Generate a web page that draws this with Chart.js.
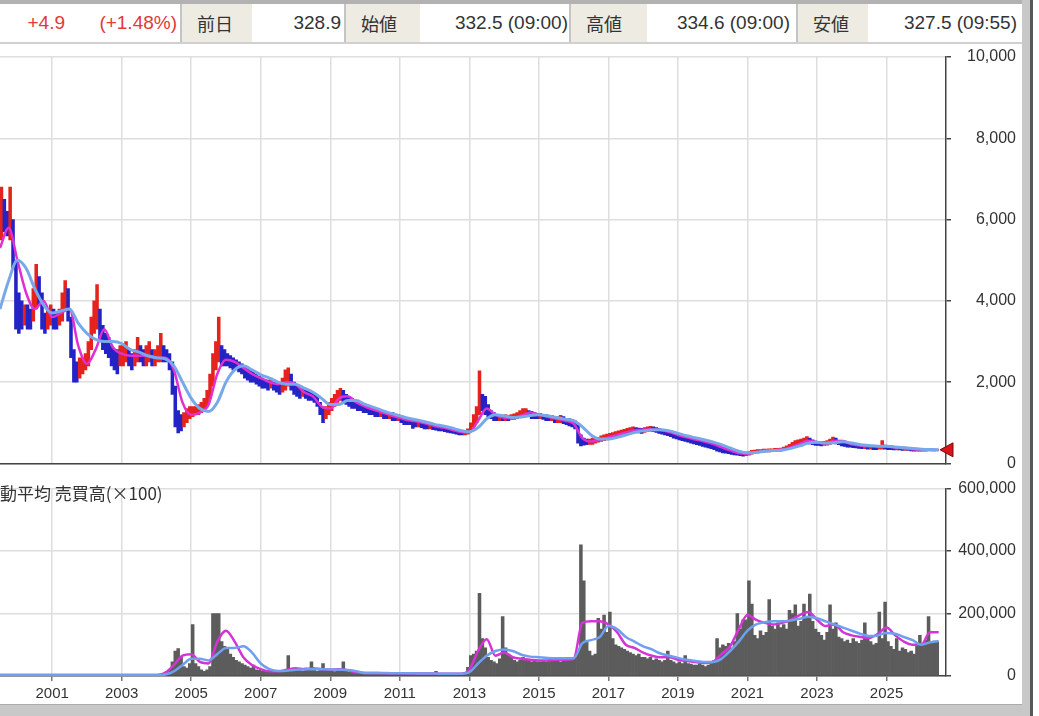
<!DOCTYPE html>
<html>
<head>
<meta charset="utf-8">
<script src="https://cdn.jsdelivr.net/npm/chart.js@4.4.1/dist/chart.umd.min.js"></script>
<style>
body { margin:0; width:1039px; height:716px; overflow:hidden; background:#fff; position:relative; font-family:'Liberation Sans', Arial, sans-serif; }
#hdr { position:absolute; left:0; top:0; width:1022px; height:44px; box-sizing:border-box; border-top:4px solid #b2b2b2; border-bottom:2px solid #d0d0d0; }
.cell { position:absolute; top:0; height:38px; line-height:38px; font-size:19px; color:#333; white-space:nowrap; text-align:right; }
.red { color:#e03a3a; }
.lbl { position:absolute; top:0; height:38px; line-height:38px; background:#eeebe3; font-family:'Noto Sans CJK JP', sans-serif; font-size:18px; color:#333; padding-left:15px; box-sizing:border-box; }
.sep { position:absolute; top:0; width:2px; height:38px; background:#c4c4c4; }
#pbox { position:absolute; left:0; top:44px; width:1024px; height:432px; }
#vbox { position:absolute; left:0; top:476px; width:1024px; height:240px; }
#vtitle { position:absolute; left:0; top:483px; font-family:'Noto Sans CJK JP', sans-serif; font-size:17px; line-height:20px; color:#333; }
.frame { position:absolute; }
</style>
</head>
<body>
<div id="hdr">
  <div class="cell red" style="left:0;width:65px">+4.9</div>
  <div class="cell red" style="left:70px;width:107px">(+1.48%)</div>
  <div class="sep" style="left:180px"></div>
  <div class="lbl" style="left:182px;width:70px">前日</div>
  <div class="cell" style="left:252px;width:89px">328.9</div>
  <div class="sep" style="left:344px"></div>
  <div class="lbl" style="left:346px;width:74px">始値</div>
  <div class="cell" style="left:420px;width:148px">332.5 (09:00)</div>
  <div class="sep" style="left:569px"></div>
  <div class="lbl" style="left:571px;width:76px">高値</div>
  <div class="cell" style="left:647px;width:143px">334.6 (09:00)</div>
  <div class="sep" style="left:796px"></div>
  <div class="lbl" style="left:798px;width:70px">安値</div>
  <div class="cell" style="left:868px;width:149px">327.5 (09:55)</div>
</div>
<div id="pbox"><canvas id="priceChart"></canvas></div>
<div id="vbox"><canvas id="volChart"></canvas></div>
<div id="vtitle">動平均 売買高(×100)</div>
<div class="frame" style="left:0;top:704px;width:1030px;height:12px;background:#c8c8c8;border-top:1px solid #aaa"></div>
<div class="frame" style="left:1022px;top:0;width:8px;height:716px;background:#c8c8c8"></div>
<div class="frame" style="left:1030px;top:0;width:3px;height:716px;background:#585858"></div>
<script>
// monthly data, Jul 1999 .. Jun 2026
const startYear = 1999.5;
const xMin = 1999.5, xMax = 2026.71;
const yearTicks = [2001,2003,2005,2007,2009,2011,2013,2015,2017,2019,2021,2023,2025];
const lastPrice = 333.8;

const priceLow = [
  5500,5700,5600,5500,4800,3300,
  3200,3300,3400,3300,3300,3500,3800,3900,3300,3200,3300,3400,
  3300,3300,3400,3500,3800,3500,2600,2000,2000,2100,2200,2300,
  2400,2800,3200,3300,3000,2800,2700,2600,2400,2300,2200,2400,
  2400,2500,2400,2300,2400,2500,2500,2400,2400,2500,2400,2400,
  2500,2500,2500,2500,2300,1700,900,750,800,900,1000,1100,
  1150,1200,1200,1250,1300,1400,1600,1900,2300,2500,2400,2400,
  2400,2350,2300,2300,2250,2200,2100,2050,2000,2000,1950,1900,
  1850,1850,1800,1850,1800,1750,1700,1750,1800,1900,1800,1700,
  1650,1600,1650,1600,1550,1550,1500,1400,1200,1000,1100,1200,
  1300,1400,1500,1550,1500,1450,1400,1350,1350,1300,1300,1250,
  1250,1200,1200,1150,1150,1150,1100,1100,1100,1050,1050,1050,
  1000,950,950,950,860,900,900,880,850,850,850,830,
  820,800,800,780,760,750,740,720,700,700,700,720,
  780,900,1000,1200,1300,1200,1150,1100,1050,1050,1050,1050,
  1050,1050,1080,1080,1100,1150,1180,1200,1150,1100,1100,1100,
  1100,1080,1050,1050,1050,1000,1000,1000,980,950,920,900,
  850,500,430,450,460,470,470,500,520,540,560,580,
  600,620,640,660,680,700,720,740,760,760,750,740,
  760,780,790,780,760,740,720,700,680,660,620,600,
  580,560,540,520,500,480,460,440,420,400,380,360,
  340,300,280,260,250,240,220,210,200,190,180,190,
  200,230,250,260,270,270,280,280,290,290,300,300,
  320,340,360,400,430,450,470,480,500,480,460,440,
  440,430,440,450,470,500,480,460,430,420,400,400,
  390,380,370,360,360,350,350,340,340,350,350,350,
  340,340,330,330,330,320,320,320,310,300,300,300,
  300,300,310,310,310,320
];
const priceHigh = [
  6800,6500,6200,6800,6000,5000,
  4200,4000,3900,3900,3800,4300,4900,4600,4200,3700,3800,3900,
  3800,3700,3800,4200,4500,4300,3600,2800,2500,2600,2600,2700,
  3000,3600,4000,4400,3800,3400,3200,3100,2900,2800,2800,2900,
  2900,3000,2800,2700,2800,3100,2900,2800,2900,3000,2800,2800,
  2900,3200,2900,2800,2700,2500,1900,1300,1200,1250,1350,1400,
  1400,1400,1450,1500,1600,1800,2200,2700,3000,3600,2900,2800,
  2700,2650,2600,2550,2500,2450,2400,2350,2300,2250,2200,2150,
  2100,2050,2050,2100,2000,2000,1950,2100,2300,2350,2200,2000,
  1900,1850,1850,1800,1800,1750,1700,1650,1500,1350,1400,1500,
  1600,1700,1800,1850,1800,1700,1650,1600,1550,1500,1450,1450,
  1400,1400,1350,1350,1300,1300,1300,1250,1250,1250,1200,1200,
  1180,1150,1120,1100,1100,1050,1050,1020,1000,980,980,960,
  950,940,920,900,880,860,850,830,820,800,800,850,
  1000,1200,1400,2280,1700,1650,1450,1300,1250,1200,1200,1180,
  1200,1180,1200,1220,1250,1300,1350,1350,1300,1280,1250,1230,
  1230,1200,1200,1180,1180,1150,1150,1180,1150,1100,1100,1080,
  1050,950,700,620,600,600,620,620,640,680,700,720,
  740,760,780,800,820,840,860,880,900,880,870,860,
  880,900,910,900,880,860,840,820,800,780,760,720,
  700,680,660,640,620,600,580,560,540,520,500,480,
  460,430,400,380,360,340,320,300,290,280,270,270,
  290,320,330,340,340,350,350,360,360,370,370,380,
  400,430,470,520,560,580,600,620,660,620,580,550,
  540,530,540,560,600,650,620,560,520,500,490,480,
  480,470,460,450,450,440,440,430,420,430,560,450,
  440,430,420,420,410,400,400,390,380,370,370,360,
  360,360,360,350,350,340
];
const volume = [
  3000,3000,4000,3000,3000,4000,
  4000,3000,3000,3000,3000,3000,4000,3000,3000,3000,3000,3000,
  3000,3000,3000,3000,3000,3000,4000,3000,3000,3000,3000,3000,
  3000,3000,4000,4000,3000,3000,3000,3000,3000,3000,3000,3000,
  3000,3000,3000,3000,3000,3000,3000,3000,3000,3000,3000,3000,
  4000,5000,8000,15000,20000,45000,80000,88000,60000,30000,25000,40000,
  165000,40000,30000,20000,15000,20000,30000,200000,200000,200000,110000,95000,
  85000,70000,60000,50000,45000,40000,35000,30000,25000,35000,20000,18000,
  15000,15000,14000,13000,15000,14000,13000,14000,15000,65000,20000,18000,
  18000,20000,15000,25000,20000,45000,18000,15000,18000,40000,20000,15000,
  15000,14000,20000,15000,45000,15000,12000,12000,10000,10000,10000,10000,
  10000,9000,10000,9000,8000,9000,10000,9000,8000,9000,8000,8000,
  8000,9000,8000,8000,9000,8000,8000,7000,8000,7000,7000,8000,
  15000,8000,7000,6000,6000,6000,5000,5000,6000,8000,10000,28000,
  65000,70000,80000,265000,120000,90000,60000,50000,45000,40000,55000,190000,
  90000,70000,60000,50000,45000,50000,60000,55000,50000,45000,48000,45000,
  45000,50000,45000,48000,50000,60000,55000,45000,48000,60000,60000,50000,
  60000,80000,420000,305000,110000,80000,65000,70000,185000,150000,195000,140000,
  205000,120000,100000,95000,90000,85000,80000,75000,70000,65000,70000,60000,
  60000,55000,60000,50000,55000,50000,45000,50000,80000,50000,45000,40000,
  45000,40000,65000,40000,38000,35000,35000,40000,35000,30000,35000,40000,
  50000,120000,90000,100000,95000,105000,90000,110000,200000,150000,180000,180000,
  305000,230000,130000,120000,145000,130000,140000,245000,160000,150000,170000,155000,
  165000,150000,210000,200000,228000,160000,175000,230000,185000,262000,175000,150000,
  140000,130000,115000,140000,228000,150000,170000,125000,120000,110000,115000,105000,
  120000,110000,105000,115000,170000,120000,110000,100000,105000,205000,120000,237000,
  110000,95000,85000,120000,80000,90000,85000,75000,80000,70000,95000,130000,
  100000,115000,190000,110000,112000,110000
];

// moving averages read quarterly, Jul 1999 .. Jul 2026
const priceMaShort = [
  5300,5800,5000,4200,3800,4000,3600,3700,3800,2900,
  2450,2800,3300,2850,2700,2650,2650,2650,2600,2600,
  2300,1500,1200,1250,1450,2200,2550,2500,2350,2200,
  2100,2000,1950,2000,1950,1750,1650,1400,1350,1600,
  1650,1500,1400,1320,1250,1180,1120,1060,1030,980,
  920,880,830,770,760,1050,1350,1200,1120,1110,
  1180,1250,1200,1150,1100,1050,980,620,540,580,
  640,700,760,810,830,840,820,770,700,640,
  590,540,480,400,320,250,240,280,310,320,
  340,400,480,560,520,490,560,550,470,440,
  420,420,420,390,370,350,335,335,330
];
const priceMaLong = [
  3800,4500,5000,4800,4300,3900,3700,3750,3800,3450,
  3200,3050,3000,3000,2950,2800,2740,2650,2600,2570,
  2400,2000,1600,1350,1280,1500,2000,2300,2400,2300,
  2180,2100,2000,1950,1950,1850,1750,1600,1450,1450,
  1550,1550,1450,1380,1300,1230,1170,1110,1070,1020,
  960,920,870,810,780,880,1100,1200,1170,1130,
  1140,1180,1200,1170,1130,1090,1050,900,700,600,
  600,640,700,760,800,820,830,800,740,680,
  630,580,530,460,380,300,260,270,300,315,
  330,370,430,500,520,500,510,530,500,460,
  440,420,420,405,385,365,350,340,335
];
const volMaShort = [
  3000,3000,3000,3000,3000,3000,3000,3000,3000,3000,
  3000,3000,3000,3000,3000,3000,3000,3000,3000,10000,
  35000,65000,70000,45000,40000,110000,145000,110000,60000,35000,
  22000,15000,15000,20000,25000,22000,25000,22000,20000,22000,
  18000,12000,10000,10000,9000,9000,9000,8000,8000,8000,
  8000,7000,7000,7000,20000,80000,118000,65000,75000,60000,
  55000,52000,50000,50000,52000,52000,55000,170000,175000,175000,
  165000,140000,100000,90000,75000,65000,60000,60000,52000,48000,
  45000,42000,45000,70000,95000,150000,195000,180000,170000,165000,
  170000,180000,195000,205000,180000,160000,165000,140000,130000,125000,
  122000,135000,155000,130000,110000,100000,100000,140000,140000
];
const volMaLong = [
  3000,3000,3000,3000,3000,3000,3000,3000,3000,3000,
  3000,3000,3000,3000,3000,3000,3000,3000,3000,5000,
  15000,35000,55000,55000,50000,70000,90000,90000,95000,75000,
  40000,22000,16000,17000,20000,21000,22000,22000,21000,20000,
  19000,15000,10000,10000,10000,9000,9000,9000,8000,8000,
  8000,7000,7000,7000,12000,40000,65000,80000,85000,80000,
  68000,62000,60000,58000,57000,57000,57000,105000,115000,125000,
  160000,150000,125000,110000,95000,85000,72000,65000,58000,52000,
  48000,45000,45000,55000,80000,110000,145000,165000,172000,175000,
  175000,178000,183000,190000,185000,175000,165000,155000,145000,135000,
  128000,130000,138000,135000,125000,115000,100000,108000,112000
];

const fontFamily = "'Liberation Sans', Arial, sans-serif";
Chart.defaults.font.family = fontFamily;
Chart.defaults.animation = false;

function monthX(i) { return startYear + (i + 0.5) / 12; }
function quarterX(k) { return startYear + k * 0.25; }
function toPoints(arr, fx) { return arr.map((v, i) => ({x: fx(i), y: v})); }

function xAxis(showLabels) {
  return {
    type: 'linear', min: xMin, max: xMax, offset: false,
    afterBuildTicks: s => { s.ticks = yearTicks.map(v => ({value: v})); },
    afterFit: s => { s.height = showLabels ? 30 : 0; },
    ticks: {display: showLabels, color: '#333', font: {size: 15}, padding: 4, maxRotation: 0, autoSkip: false, callback: v => String(v)},
    grid: {color: '#dedede', lineWidth: 1.5, offset: false, drawTicks: showLabels, tickLength: 5, tickColor: '#777'},
    border: {color: '#444', width: 1.5}
  };
}
function yAxis(max, step) {
  return {
    position: 'right', min: 0, max: max,
    afterFit: s => { s.width = 70; },
    ticks: {stepSize: step, crossAlign: 'far', color: '#333', font: {size: 16}, callback: v => v.toLocaleString('en-US')},
    grid: {color: '#dedede', lineWidth: 1.5, tickLength: 5, tickColor: '#444'},
    border: {color: '#444', width: 1.5}
  };
}
function maLine(data, color, width, order) {
  return {type: 'line', data: data, borderColor: color, borderWidth: width, pointRadius: 0,
    cubicInterpolationMode: 'monotone', order: order};
}

const lastMarker = {
  id: 'lastMarker',
  afterDraw(chart) {
    const {ctx, chartArea, scales} = chart;
    const y = scales.y.getPixelForValue(lastPrice);
    const x = chartArea.right;
    ctx.save();
    ctx.beginPath();
    ctx.moveTo(x - 6, y);
    ctx.lineTo(x + 7, y - 7);
    ctx.lineTo(x + 7, y + 7);
    ctx.closePath();
    ctx.fillStyle = '#d8141a';
    ctx.fill();
    ctx.strokeStyle = '#7a0a0a';
    ctx.lineWidth = 1;
    ctx.stroke();
    ctx.restore();
  }
};

function loadPriceChart() {
  const bars = priceLow.map((lo, i) => ({x: monthX(i), y: [lo, priceHigh[i]]}));
  const colors = priceLow.map((lo, i) => {
    const mid = (lo + priceHigh[i]) / 2;
    const prev = i ? (priceLow[i-1] + priceHigh[i-1]) / 2 : mid;
    return mid >= prev ? '#e5231d' : '#2323c6';
  });
  new Chart(document.getElementById('priceChart'), {
    type: 'bar',
    data: {datasets: [
      {data: bars, backgroundColor: colors, categoryPercentage: 1, barPercentage: 1, order: 3},
      maLine(toPoints(priceMaShort, quarterX), '#e02fd2', 2.5, 2),
      maLine(toPoints(priceMaLong, quarterX), '#77a9ea', 3, 1)
    ]},
    options: {
      responsive: true, maintainAspectRatio: false,
      layout: {padding: {top: 13, bottom: 11, left: 0, right: 8}},
      plugins: {legend: {display: false}, tooltip: {enabled: false}},
      scales: {x: xAxis(false), y: yAxis(10000, 2000)}
    },
    plugins: [lastMarker]
  });
}

function loadVolumeChart() {
  new Chart(document.getElementById('volChart'), {
    type: 'bar',
    data: {datasets: [
      {data: toPoints(volume, monthX), backgroundColor: '#5c5c5c', categoryPercentage: 1, barPercentage: 1, order: 3},
      maLine(toPoints(volMaShort, quarterX), '#d434d4', 2.5, 2),
      maLine(toPoints(volMaLong, quarterX), '#6f9fee', 2.5, 1)
    ]},
    options: {
      responsive: true, maintainAspectRatio: false,
      layout: {padding: {top: 8, bottom: 10, left: 0, right: 8}},
      plugins: {legend: {display: false}, tooltip: {enabled: false}},
      scales: {x: xAxis(true), y: yAxis(600000, 200000)}
    }
  });
}

loadPriceChart();
loadVolumeChart();
</script>
</body>
</html>
